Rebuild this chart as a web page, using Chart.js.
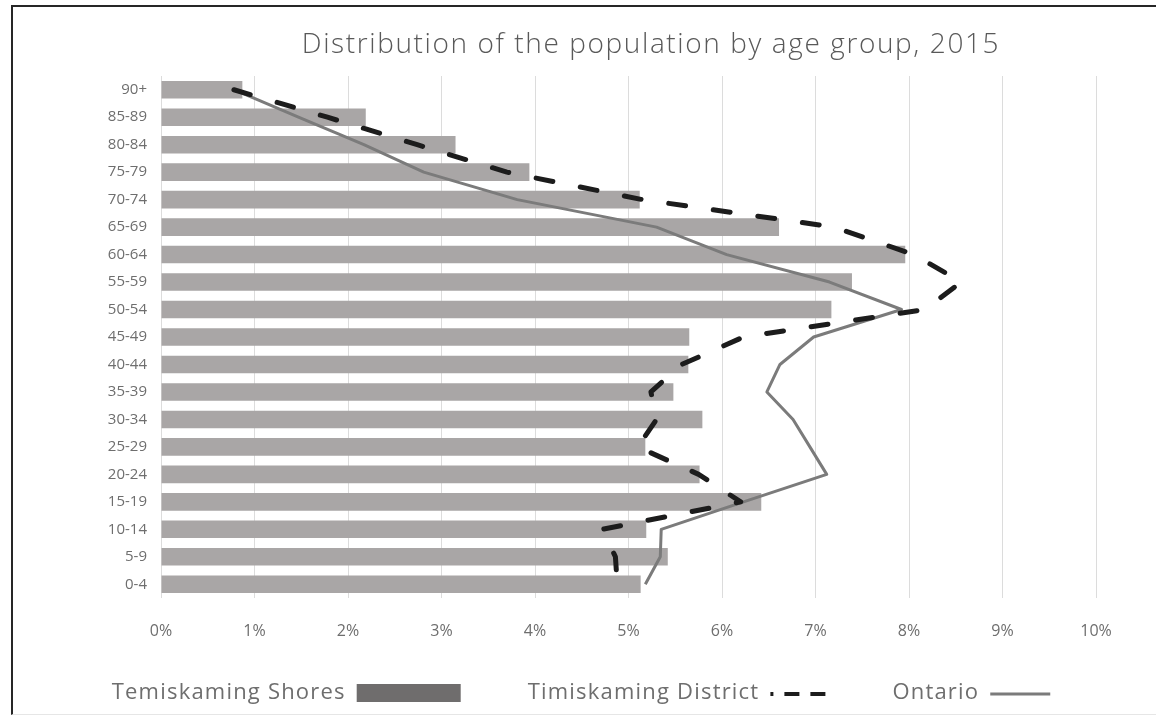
<!DOCTYPE html>
<html>
<head>
<meta charset="utf-8">
<script src="https://cdn.jsdelivr.net/npm/chart.js@4/dist/chart.umd.min.js"></script>
<style>
    html, body { margin: 0; padding: 0; background: #fff; }
    #frame {
        position: absolute; left: 11px; top: 5px; width: 1160px; height: 707px;
        border-top: 2px solid #262626; border-left: 2px solid #262626;
        border-bottom: 1px solid #e6e6e6;
    }
    #wrap { position: absolute; left: 0; top: 0; width: 1156px; height: 728px; }
</style>
</head>
<body>
<div id="frame"></div>
<div id="wrap"><canvas id="ageChart" width="1156" height="728"></canvas></div>
<script>
// age groups, oldest on top
const ageGroups = ['90+', '85-89', '80-84', '75-79', '70-74', '65-69', '60-64', '55-59', '50-54',
    '45-49', '40-44', '35-39', '30-34', '25-29', '20-24', '15-19', '10-14', '5-9', '0-4'];

// share of population, in %
const temiskamingShores = [0.87, 2.19, 3.15, 3.94, 5.12, 6.61, 7.96, 7.39, 7.17,
    5.65, 5.64, 5.48, 5.79, 5.18, 5.76, 6.42, 5.19, 5.42, 5.13];
const timiskamingDistrict = [0.78, 1.78, 2.74, 3.70, 5.15, 7.20, 8.05, 8.56, 8.17,
    6.23, 5.57, 5.24, 5.30, 5.10, 5.75, 6.20, 4.72, 4.86, 4.88];
const ontario = [0.78, 1.47, 2.17, 2.81, 3.81, 5.30, 6.05, 7.15, 7.92,
    6.98, 6.62, 6.48, 6.76, 6.94, 7.12, 6.23, 5.35, 5.34, 5.18];

const xTicks = [0, 1, 2, 3, 4, 5, 6, 7, 8, 9, 10];

const FONT = '"Open Sans", "DejaVu Sans", sans-serif';
const TEXT_GREY = '#6e6e6e';

// title + legend in the original layout (text first, then the symbol)
const titleAndLegend = {
    id: 'titleAndLegend',
    afterDraw(chart) {
        const ctx = chart.ctx;
        ctx.save();

        ctx.fillStyle = '#595959';
        ctx.font = '300 28px ' + FONT;
        ctx.letterSpacing = '1.6px';
        ctx.textAlign = 'center';
        ctx.textBaseline = 'middle';
        ctx.fillText('Distribution of the population by age group, 2015', 651, 45);

        ctx.font = '22px ' + FONT;
        ctx.letterSpacing = '1.2px';
        ctx.textAlign = 'left';
        const ds = chart.data.datasets;
        const y = 693;
        const items = [
            { d: ds[0], sw: 104, gapAfter: 67 },
            { d: ds[1], sw: 60, gapAfter: 62 },
            { d: ds[2], sw: 60, gapAfter: 0 }
        ];
        const gapText = 11;
        let total = 0;
        items.forEach(it => {
            it.tw = ctx.measureText(it.d.label).width;
            total += it.tw + gapText + it.sw + it.gapAfter;
        });
        let x = 581 - total / 2;
        items.forEach(it => {
            ctx.fillStyle = TEXT_GREY;
            ctx.fillText(it.d.label, x, y);
            const sx = x + it.tw + gapText;
            if (it.d.type === 'bar') {
                ctx.fillStyle = '#6f6d6d';
                ctx.fillRect(sx, y - 9, it.sw, 18);
            } else {
                ctx.strokeStyle = it.d.borderColor;
                ctx.lineWidth = it.d.borderDash ? 4 : 3;
                if (it.d.borderDash) {
                    ctx.setLineDash([15, 11]);
                    ctx.lineDashOffset = 12;
                }
                ctx.beginPath();
                ctx.moveTo(sx, y + 1);
                ctx.lineTo(sx + it.sw, y + 1);
                ctx.stroke();
                ctx.setLineDash([]);
            }
            x = sx + it.sw + it.gapAfter;
        });
        ctx.restore();
    }
};

new Chart(document.getElementById('ageChart'), {
    data: {
        labels: ageGroups,
        datasets: [
            {
                type: 'bar',
                label: 'Temiskaming Shores',
                data: temiskamingShores,
                backgroundColor: '#a9a6a6',
                categoryPercentage: 1,
                barPercentage: 0.64,
                order: 3
            },
            {
                type: 'line',
                label: 'Timiskaming District',
                data: timiskamingDistrict,
                borderColor: '#1c1c1c',
                borderWidth: 5,
                borderDash: [17, 28],
                borderCapStyle: 'round',
                borderJoinStyle: 'round',
                pointRadius: 0,
                tension: 0,
                fill: false,
                order: 1
            },
            {
                type: 'line',
                label: 'Ontario',
                data: ontario,
                borderColor: '#7b7b7b',
                borderWidth: 3,
                borderJoinStyle: 'round',
                pointRadius: 0,
                tension: 0,
                fill: false,
                order: 2
            }
        ]
    },
    options: {
        indexAxis: 'y',
        responsive: false,
        animation: false,
        layout: { padding: { left: 0, top: 76, right: 60, bottom: 0 } },
        scales: {
            x: {
                type: 'linear',
                min: 0,
                max: 10,
                afterBuildTicks: (axis) => { axis.ticks = xTicks.map(v => ({ value: v })); },
                afterFit: (axis) => { axis.height = 130; },
                grid: { color: '#dcdcdc', lineWidth: 1, drawTicks: false },
                border: { display: false },
                ticks: {
                    padding: 24,
                    color: TEXT_GREY,
                    font: { family: FONT, size: 16 },
                    callback: v => v + '%'
                }
            },
            y: {
                type: 'category',
                offset: true,
                afterFit: (axis) => { axis.width = 161; },
                grid: { display: false, drawTicks: false },
                border: { display: false },
                ticks: {
                    padding: 14,
                    color: TEXT_GREY,
                    font: { family: FONT, size: 15 }
                }
            }
        },
        plugins: {
            legend: { display: false },
            title: { display: false },
            tooltip: { enabled: false }
        }
    },
    plugins: [titleAndLegend]
});
</script>
</body>
</html>
